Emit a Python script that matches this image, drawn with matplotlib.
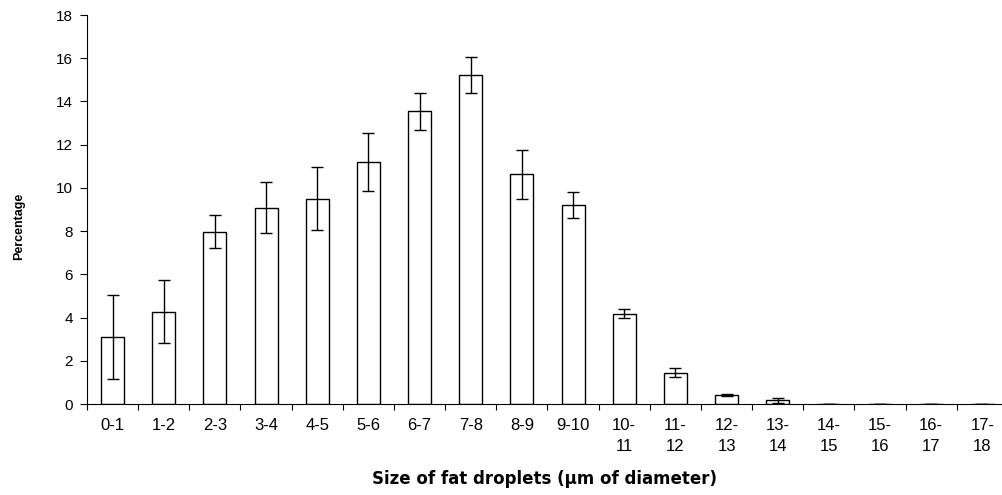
import matplotlib
matplotlib.use("Agg")
import matplotlib.pyplot as plt
import numpy as np

categories = ["0-1", "1-2", "2-3", "3-4", "4-5", "5-6", "6-7", "7-8", "8-9", "9-10",
              "10-\n11", "11-\n12", "12-\n13", "13-\n14", "14-\n15", "15-\n16", "16-\n17", "17-\n18"]
values = [3.1, 4.28, 7.98, 9.08, 9.5, 11.2, 13.55, 15.22, 10.62, 9.22,
          4.18, 1.45, 0.42, 0.17, 0.0, 0.0, 0.0, 0.0]
errors = [1.95, 1.45, 0.77, 1.17, 1.45, 1.35, 0.85, 0.82, 1.13, 0.6,
          0.2, 0.2, 0.05, 0.13, 0.0, 0.0, 0.0, 0.0]
yticks = [0, 2, 4, 6, 8, 10, 12, 14, 16, 18]

plt.rcParams['font.family'] = ['Liberation Sans', 'DejaVu Sans']

fig = plt.figure(figsize=(10.02, 4.95), dpi=100)
ax = fig.add_axes([87/1002, 91/495, 921/1002, 389/495])

x = np.arange(len(categories))
ax.bar(x, values, width=0.45, color='white', edgecolor='black', linewidth=1.0, zorder=2)
ax.errorbar(x, values, yerr=errors, fmt='none', ecolor='black', elinewidth=1.0,
            capsize=4.3, capthick=1.0, zorder=3)

ax.set_xlim(-0.5, len(categories) - 0.5)
ax.set_ylim(0, 18)
ax.set_yticks(yticks)
ax.set_yticklabels([str(v) for v in yticks], fontsize=11)
ax.set_xticks(x)
ax.set_xticklabels(categories, fontsize=12, linespacing=1.55)
ax.tick_params(axis='x', which='major', length=0, pad=10)
ax.set_xticks(np.arange(len(categories) + 1) - 0.5, minor=True)
ax.tick_params(axis='x', which='minor', length=4, width=0.8, direction='out')
ax.tick_params(axis='y', length=5, width=0.8, direction='out', pad=5)

for s in ['top', 'right']:
    ax.spines[s].set_visible(False)
for s in ['left', 'bottom']:
    ax.spines[s].set_linewidth(0.8)

fig.text(19/1002, 1 - 226/495, "Percentage", rotation=90, ha='center', va='center',
         fontsize=9, fontweight='bold')
fig.text(545/1002, 1 - 479/495, "Size of fat droplets (\u03bcm of diameter)", ha='center',
         va='center', fontsize=12, fontweight='bold', family=['DejaVu Sans'])

fig.savefig("out.png", dpi=100)
